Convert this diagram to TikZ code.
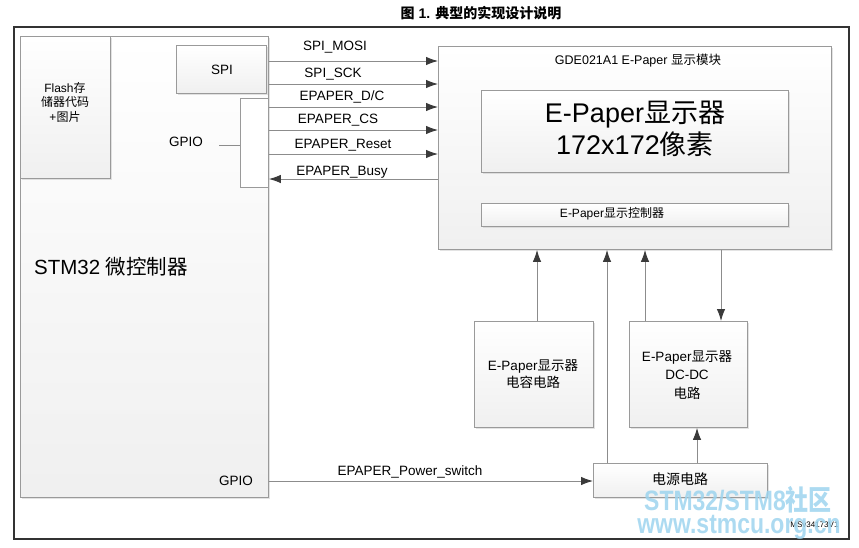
\documentclass[tikz,border=0pt]{standalone}
\usepackage{fontspec}
\setmainfont{Liberation Sans}
\newfontfamily\cjk{Noto Sans CJK SC}
\usetikzlibrary{arrows.meta,shadows}
\newcommand\zh[1]{{\cjk #1}}
\definecolor{linegray}{HTML}{8C8C8C}
\definecolor{boxborder}{HTML}{9A9A9A}
\definecolor{headgray}{HTML}{3A3A3A}
\definecolor{wmblue}{HTML}{9DD4EE}
\begin{document}
\begin{tikzpicture}[x=1pt,y=-1pt,
  box/.style={draw=boxborder, line width=0.9pt, top color=white, bottom color=black!6,
    drop shadow={shadow xshift=1.2pt, shadow yshift=-1.2pt, fill=black!22},
    inner sep=0pt, anchor=north west},
  plainbox/.style={draw=boxborder, line width=0.9pt, fill=white, inner sep=0pt, anchor=north west},
  conn/.style={draw=linegray, line width=0.9pt},
  arr/.style={conn, -{Latex[length=12pt,width=8.5pt,fill=headgray,color=headgray]}},
  lbl/.style={font=\fontsize{13.5}{15}\selectfont, inner sep=0pt},
]
\useasboundingbox (0,0) rectangle (859,547);
% title
\node[font=\bfseries\fontsize{14}{16}\selectfont] (title) at (481,13) {\zh{图} 1. \zh{典型的实现设计说明}};
% outer frame
\draw[line width=1.2pt, black!80] (14,27) rectangle (849,539);

% boxes
\node[box, minimum width=248, minimum height=461] (stm) at (20,36) {};
\node[box, minimum width=90, minimum height=142] (flash) at (20,36) {};
\node[box, minimum width=90, minimum height=48] (spi) at (176,45) {};
\node[plainbox, minimum width=28, minimum height=89] (gpio) at (240,98) {};
\node[box, minimum width=393, minimum height=203] (mod) at (438,46) {};
\node[box, minimum width=307, minimum height=82] (disp) at (481,90) {};
\node[box, minimum width=307, minimum height=23] (ctrl) at (481,203) {};
\node[box, minimum width=119, minimum height=106] (cap) at (474,321) {};
\node[box, minimum width=118, minimum height=106] (dcdc) at (629,321) {};
\node[box, minimum width=174, minimum height=34] (pwr) at (593,463) {};

% texts in boxes
\node[align=center, font=\fontsize{12}{14.5}\selectfont] (flashtxt) at (65,102) {Flash\zh{存}\\\zh{储器代码}\\+\zh{图片}};
\node[lbl] (spitxt) at (222,70) {SPI};
\node[lbl, anchor=east] (gpiotxt) at (203,142) {GPIO};
\node[font=\fontsize{20.5}{24}\selectfont, anchor=west, inner sep=0pt] (stmtxt) at (34,267) {STM32 \zh{微控制器}};
\node[lbl, anchor=east] (gpio2txt) at (253,481) {GPIO};
\node[font=\fontsize{12.5}{14}\selectfont] (modtxt) at (638,61) {GDE021A1 E-Paper \zh{显示模块}};
\node[align=center, font=\fontsize{27}{32}\selectfont] (disptxt) at (635,129) {E-Paper\zh{显示器}\\172x172\zh{像素}};
\node[font=\fontsize{12}{14}\selectfont] (ctrltxt) at (612,214) {E-Paper\zh{显示控制器}};
\node[align=center, font=\fontsize{13.5}{17}\selectfont] (captxt) at (533,374) {E-Paper\zh{显示器}\\\zh{电容电路}};
\node[align=center, font=\fontsize{13.5}{18.5}\selectfont] (dcdctxt) at (687,375) {E-Paper\zh{显示器}\\DC-DC\\\zh{电路}};
\node[font=\fontsize{14}{15}\selectfont] (pwrtxt) at (680,479) {\zh{电源电路}};

% GPIO pointer
\coordinate (gpioline) at (219,145);
\draw[conn] (gpioline) -- (gpioline -| gpio.west);

% signal rows
\coordinate (yMOSI) at (0,61);
\coordinate (ySCK) at (0,84);
\coordinate (yDC) at (0,107);
\coordinate (yCS) at (0,130);
\coordinate (yRST) at (0,154);
\coordinate (yBUSY) at (0,179);
\coordinate (yPS) at (0,481);
\draw[arr] (stm.east |- yMOSI) -- (mod.west |- yMOSI);
\draw[arr] (stm.east |- ySCK) -- (mod.west |- ySCK);
\draw[arr] (stm.east |- yDC) -- (mod.west |- yDC);
\draw[arr] (stm.east |- yCS) -- (mod.west |- yCS);
\draw[arr] (stm.east |- yRST) -- (mod.west |- yRST);
\draw[arr] (mod.west |- yBUSY) -- (stm.east |- yBUSY);
\draw[arr] (stm.east |- yPS) -- (pwr.west |- yPS);

\node[lbl] (lMOSI) at (335,47) {SPI\_MOSI};
\node[lbl] (lSCK) at (333,74) {SPI\_SCK};
\node[lbl] (lDC) at (342,97) {EPAPER\_D/C};
\node[lbl] (lCS) at (338,120) {EPAPER\_CS};
\node[lbl] (lRST) at (343,145) {EPAPER\_Reset};
\node[lbl] (lBUSY) at (342,172) {EPAPER\_Busy};
\node[lbl] (lPS) at (410,472) {EPAPER\_Power\_switch};

% vertical connectors
\coordinate (xCap) at (537,0);
\coordinate (xPwr) at (607,0);
\coordinate (xDc) at (645,0);
\coordinate (xDown) at (721,0);
\coordinate (xPd) at (697,0);
\draw[arr] (cap.north -| xCap) -- (mod.south -| xCap);
\draw[arr] (pwr.north -| xPwr) -- (mod.south -| xPwr);
\draw[arr] (dcdc.north -| xDc) -- (mod.south -| xDc);
\draw[arr] (mod.south -| xDown) -- (dcdc.north -| xDown);
\draw[arr] (pwr.north -| xPd) -- (dcdc.south -| xPd);

% footnote & watermark
\node[font=\fontsize{8}{9}\selectfont, anchor=east] (msv) at (842,525) {MSv34173V1};
\node[text=wmblue, opacity=0.85, font=\bfseries\fontsize{28}{30}\selectfont] (wm1) at (738,500) {\scalebox{0.82}[1]{STM32/STM8\zh{社区}}};
\node[text=wmblue, opacity=0.85, font=\bfseries\fontsize{28}{30}\selectfont] (wm2) at (739,527) {\scalebox{0.82}[1]{www.stmcu.org.cn}};
\end{tikzpicture}
\end{document}
